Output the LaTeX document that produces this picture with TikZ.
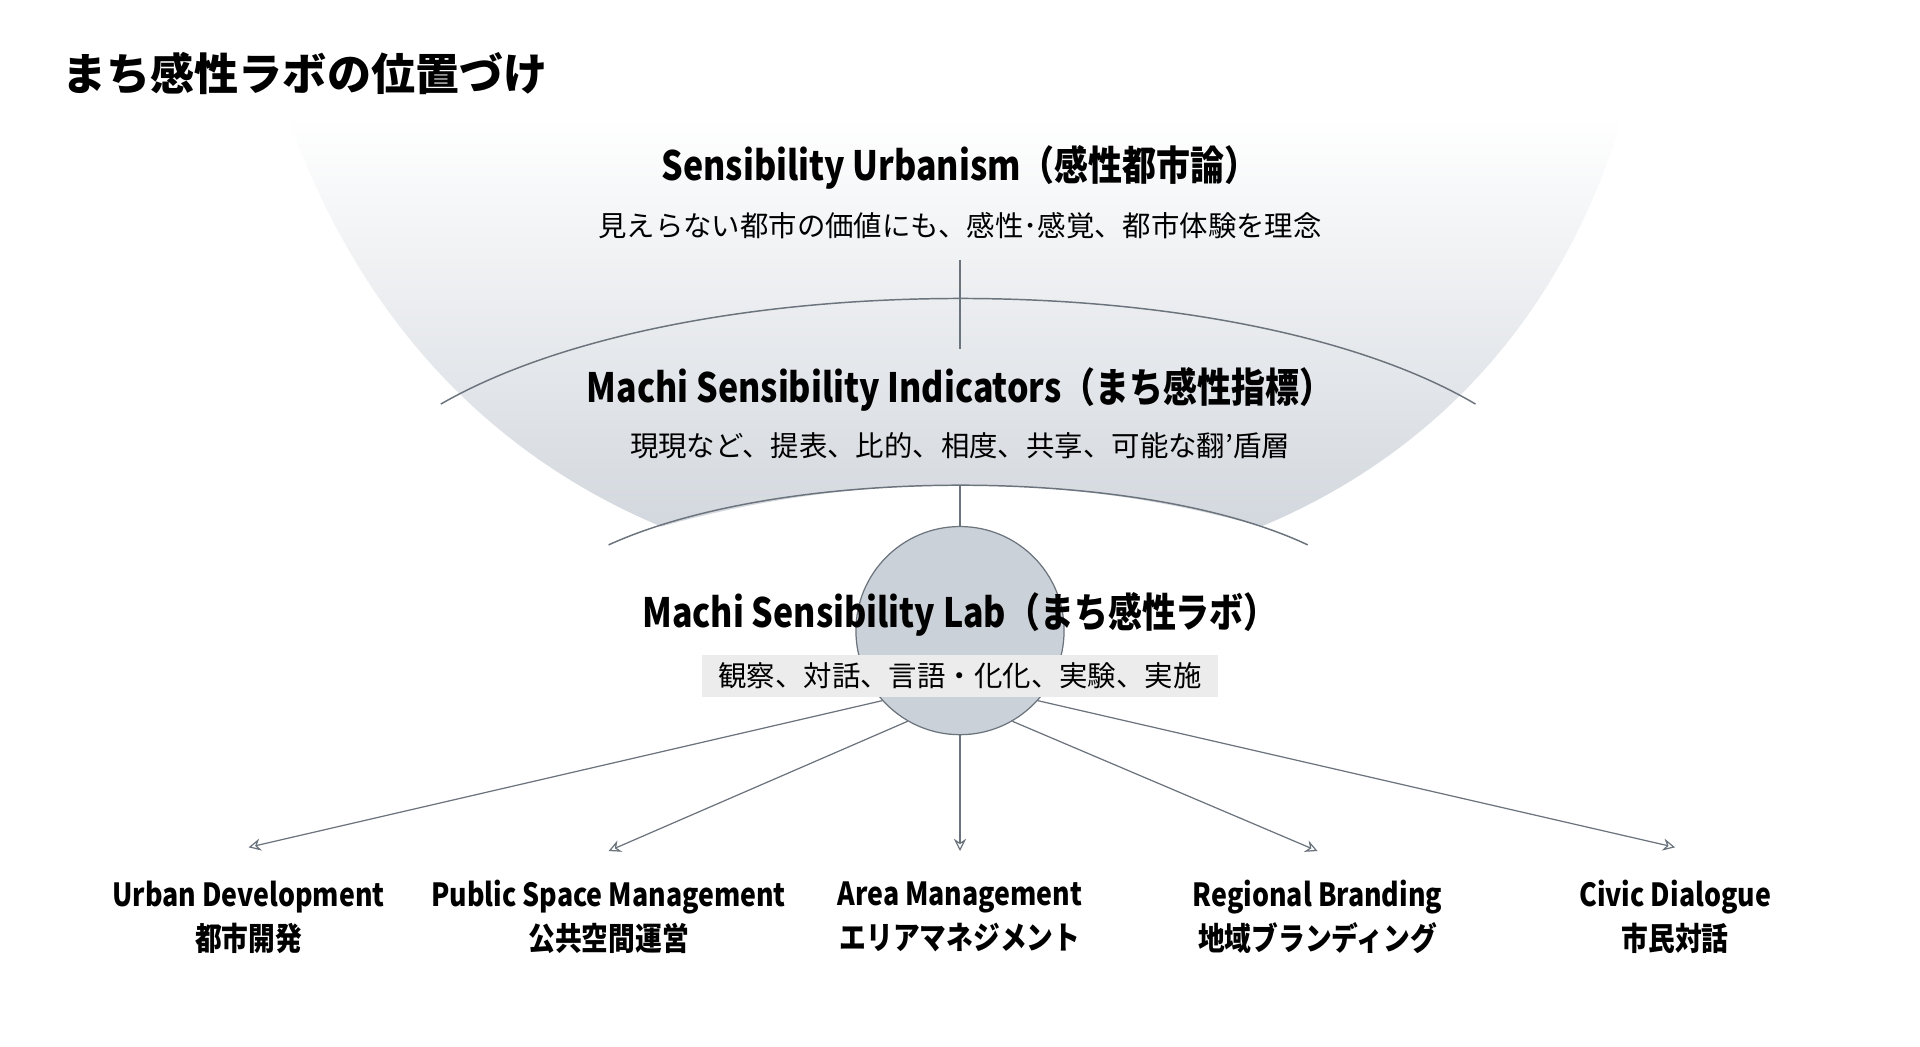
\documentclass[tikz,border=0pt]{standalone}
\usepackage{fontspec}
\setmainfont{Noto Sans CJK JP}
\newfontfamily\lat[FakeStretch=0.84]{Noto Sans CJK JP}
\usetikzlibrary{arrows.meta}
\definecolor{ln}{HTML}{6B737C}
\definecolor{fan}{HTML}{D3D8DE}
\definecolor{cir}{HTML}{CBD1D8}
\begin{document}
\begin{tikzpicture}[x=0.5pt,y=-0.5pt,
  ttl/.style={font=\lat\fontsize{16.5}{18}\selectfont\bfseries},
  sub/.style={font=\fontsize{11.6}{13}\selectfont},
  lbl/.style={font=\lat\fontsize{13}{15}\selectfont\bfseries,align=center},
  arr/.style={draw=ln,line width=0.5pt,-{Stealth[length=5pt,width=5pt,open]}},
  ln/.style={draw=ln,line width=0.6pt}]
\useasboundingbox (0,0) rectangle (1568,855);
\fill[white] (0,0) rectangle (1568,855);
\shade[top color=white,bottom color=fan]
  (235,95) .. controls (300,280) and (420,380) .. (540,430)
  .. controls (700,385) and (870,385) .. (1030,430)
  .. controls (1150,380) and (1270,280) .. (1325,95) -- cycle;
\node[font=\fontsize{18}{20}\selectfont\bfseries,anchor=west] (t) at (44,60) {まち感性ラボの位置づけ};
\node[ttl] (u) at (784,137) {Sensibility Urbanism（感性都市論）};
\node[sub] (us) at (784,184) {見えらない都市の価値にも、感性･感覚、都市体験を理念};
\draw[ln] (360,330) .. controls (560,215) and (1010,215) .. (1205,330);
\draw[ln] (497,445) .. controls (640,380) and (930,380) .. (1068,445);
\coordinate (v1) at (784,212); \coordinate (v2) at (784,285);
\coordinate (v3) at (784,397);
\draw[ln] (v1) -- (v2);
\node[circle,fill=cir,draw=ln,line width=0.5pt,minimum size=85pt,inner sep=0pt] (c) at (784,515) {};
\draw[ln] (v3) -- (c.north);
\node[ttl] (i) at (784,318) {Machi Sensibility Indicators（まち感性指標）};
\node[sub] (is) at (784,364) {現現など、提表、比的、相度、共享、可能な翻'盾層};
\node[ttl] (l) at (784,502) {Machi Sensibility Lab（まち感性ラボ）};
\node[sub,fill=gray!15,minimum width=211pt,minimum height=17pt,inner sep=1pt] (ls) at (784,552) {観察、対話、言語・化化、実験、実施};
\node[lbl] (a) at (203,749) {Urban Development\\[3pt]都市開発};
\node[lbl] (b) at (497,749) {Public Space Management\\[3pt]公共空間運営};
\node[lbl] (d) at (784,749) {Area Management\\[3pt]エリアマネジメント};
\node[lbl] (e) at (1076,749) {Regional Branding\\[3pt]地域ブランディング};
\node[lbl] (f) at (1368,749) {Civic Dialogue\\[3pt]市民対話};
\coordinate (a1) at (203,692); \coordinate (b1) at (497,695);
\coordinate (d1) at (784,695); \coordinate (e1) at (1076,695);
\coordinate (f1) at (1368,692);
\draw[arr] (c.-138) -- (a1);
\draw[arr] (c.-120) -- (b1);
\draw[arr] (c.south) -- (d1);
\draw[arr] (c.-60) -- (e1);
\draw[arr] (c.-42) -- (f1);
\end{tikzpicture}
\end{document}
